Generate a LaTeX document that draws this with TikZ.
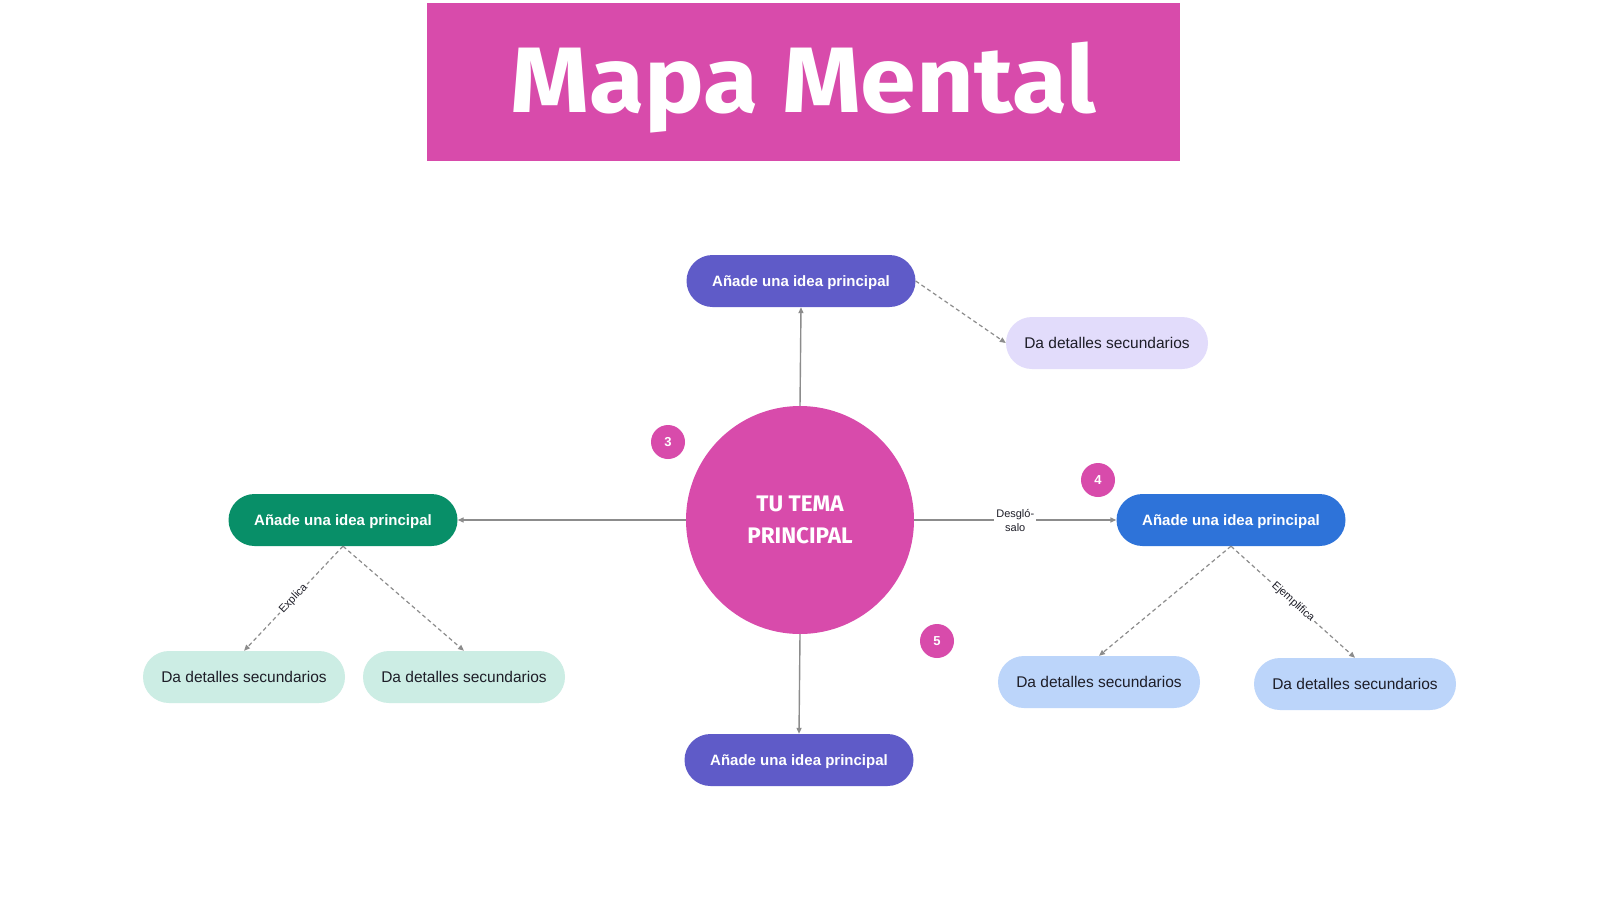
\documentclass[tikz,border=0pt]{standalone}
\usepackage{fontspec}
\setmainfont{Liberation Sans}
\newfontfamily\titlefont{Fira Sans}
\usetikzlibrary{arrows.meta}
\definecolor{pinkc}{HTML}{D84BAB}
\definecolor{purplec}{HTML}{5F5BC8}
\definecolor{lavc}{HTML}{E2DCFB}
\definecolor{greenc}{HTML}{088F68}
\definecolor{mintc}{HTML}{CCEDE4}
\definecolor{bluec}{HTML}{2E73D9}
\definecolor{lbluec}{HTML}{BCD5FA}
\definecolor{linec}{HTML}{8C8C8C}
\definecolor{txtc}{HTML}{1E1E28}
\tikzset{
  mainidea/.style={rectangle, rounded corners=26pt, minimum width=229pt, minimum height=52pt, inner sep=0pt, text height=11pt, text depth=0pt, text=white, font=\fontsize{15}{18}\selectfont\bfseries},
  detail/.style={rectangle, rounded corners=26pt, minimum width=202pt, minimum height=52pt, inner sep=0pt, text height=11pt, text depth=0pt, text=txtc, font=\fontsize{15.5}{18}\selectfont},
  badge/.style={circle, fill=pinkc, minimum size=34pt, inner sep=0pt, text=white, font=\fontsize{13}{15}\selectfont\bfseries},
  solidcon/.style={draw=linec, line width=1.4pt, -{Triangle[length=6pt,width=5pt]}},
  dashcon/.style={draw=linec, line width=1.2pt, dash pattern=on 4pt off 3pt, -{Triangle[length=6pt,width=5pt]}},
  edgelabel/.style={fill=white, inner sep=2pt, text=txtc, font=\fontsize{11}{14}\selectfont, align=center}
}
\begin{document}
\begin{tikzpicture}[x=1pt,y=-1pt]
\useasboundingbox (0,0) rectangle (1600,900);
\fill[white] (0,0) rectangle (1600,900);
% title
\node[fill=pinkc, minimum width=753pt, minimum height=158pt, inner sep=0pt] (title) at (803.5,82) {};
\node[text=white, font=\titlefont\fontsize{93}{100}\selectfont\bfseries, anchor=base, inner sep=0pt] (titletext) at (803,112) {\scalebox{1.08}[1]{Mapa Mental}};
% center
\node[circle, fill=pinkc, minimum size=228pt, inner sep=0pt, text=white, align=center, font=\titlefont\fontsize{22.5}{32}\selectfont\bfseries] (center) at (800,520) {TU TEMA\\PRINCIPAL};
% main ideas
\node[mainidea, fill=purplec] (top) at (801,281) {Añade una idea principal};
\node[mainidea, fill=greenc] (left) at (343,520) {Añade una idea principal};
\node[mainidea, fill=bluec] (right) at (1231,520) {Añade una idea principal};
\node[mainidea, fill=purplec] (bottom) at (799,760) {Añade una idea principal};
% details
\node[detail, fill=lavc] (topd) at (1107,343) {Da detalles secundarios};
\node[detail, fill=mintc] (ld1) at (244,677) {Da detalles secundarios};
\node[detail, fill=mintc] (ld2) at (464,677) {Da detalles secundarios};
\node[detail, fill=lbluec] (rd1) at (1099,682) {Da detalles secundarios};
\node[detail, fill=lbluec] (rd2) at (1355,684) {Da detalles secundarios};
% badges
\node[badge] (b3) at (668,442) {3};
\node[badge] (b4) at (1098,480) {4};
\node[badge] (b5) at (937,641) {5};
% connectors
\draw[solidcon] (center.north) -- (top.south);
\draw[solidcon] (center.west) -- (left.east);
\draw[solidcon] (center.south) -- (bottom.north);
\draw[solidcon] (center.east) -- node[edgelabel, pos=0.5] {Desgló-\\salo} (right.west);
\draw[dashcon] (top.east) -- (topd.west);
\draw[dashcon] (left.south) -- node[edgelabel, sloped, pos=0.5] {Explica} (ld1.north);
\draw[dashcon] (left.south) -- (ld2.north);
\draw[dashcon] (right.south) -- (rd1.north);
\draw[dashcon] (right.south) -- node[edgelabel, sloped, pos=0.5] {Ejemplifica} (rd2.north);
\end{tikzpicture}
\end{document}
